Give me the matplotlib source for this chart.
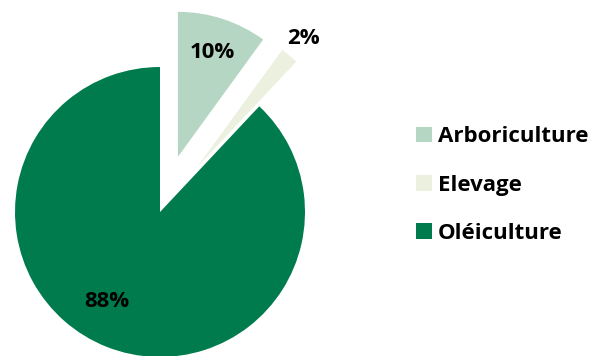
import numpy as np
import matplotlib
matplotlib.use("Agg")
import matplotlib.pyplot as plt
from matplotlib.patches import Patch

# ====== 資料 ======
categories = ["Arboriculture", "Elevage", "Oléiculture"]
values = [10, 2, 88]
colors = ["#B6D6C4", "#EBF0DF", "#007B4D"]
explode = [0.4, 0.4, 0.0]

# label 位置 (半徑比例, 角度偏移)
label_r = [0.76, 1.15, 0.72]
label_shift = [0, 0, -9]

plt.rcParams["font.family"] = ["Open Sans", "DejaVu Sans"]

fig = plt.figure(figsize=(6.01, 3.56), dpi=100)
ax = fig.add_axes([0, 0, 1, 1])

wedges, _ = ax.pie(values, colors=colors, explode=explode, startangle=90,
                   counterclock=False, radius=1.0,
                   wedgeprops=dict(linewidth=0))

for w, v, r, sh in zip(wedges, values, label_r, label_shift):
    mid = np.deg2rad((w.theta1 + w.theta2) / 2 + sh)
    cx, cy = w.center
    ax.text(cx + r * np.cos(mid), cy + r * np.sin(mid), f"{v}%",
            ha="center", va="center", fontsize=16, fontweight="bold",
            color="black")

# 1 unit = 145 px, 中心在 (160, 212) px
W, H, R = 601, 356, 145
ax.set_xlim(-160 / R, (W - 160) / R)
ax.set_ylim(-(H - 212) / R, 212 / R)
ax.set_aspect("equal")
ax.axis("off")

handles = [Patch(facecolor=c, edgecolor="none") for c in colors]
ax.legend(handles, categories, loc="center left",
          bbox_to_anchor=(416 / W, (H - 185) / H), frameon=False,
          prop=dict(size=16, weight="bold"), borderpad=0, borderaxespad=0,
          handlelength=0.7, handleheight=0.7, handletextpad=0.3,
          labelspacing=1.22)

fig.savefig("out.png", dpi=100)
